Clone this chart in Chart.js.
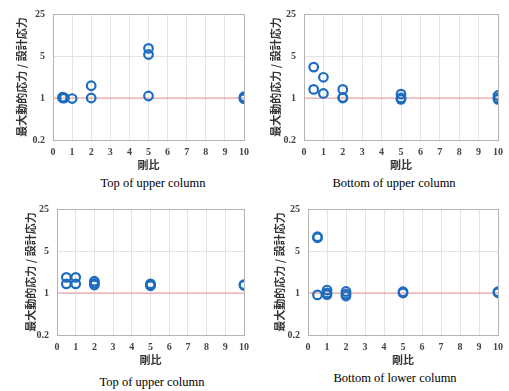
<!DOCTYPE html>
<html>
<head>
<meta charset="utf-8">
<script src="https://cdn.jsdelivr.net/npm/chart.js@4/dist/chart.umd.min.js"></script>
<style>
  body { margin: 0; background: #fff; width: 509px; height: 391px; position: relative; overflow: hidden; }
  .panel { position: absolute; }
  .cap { position: absolute; font-family: 'Liberation Serif', serif; font-size: 12.5px; color: #000; white-space: nowrap; transform: translateX(-50%); }
</style>
</head>
<body>
<div class="panel" style="left:0;top:0"><canvas id="c1" width="255" height="176"></canvas></div>
<div class="panel" style="left:255px;top:0"><canvas id="c2" width="254" height="176"></canvas></div>
<div class="panel" style="left:0;top:195px"><canvas id="c3" width="255" height="176"></canvas></div>
<div class="panel" style="left:255px;top:195px"><canvas id="c4" width="254" height="176"></canvas></div>
<div class="cap" style="left:153px;top:176px">Top of upper column</div>
<div class="cap" style="left:394px;top:176px">Bottom of upper column</div>
<div class="cap" style="left:152px;top:375px">Top of upper column</div>
<div class="cap" style="left:395px;top:371px">Bottom of lower column</div>
<script>
// 軸ラベル・目盛り
var xTitle = "剛比";
var yTitle = "最大動的応力 / 設計応力";
var stressTicks = [0.2, 1, 5, 25];
var refLine = [{x: 0, y: 1}, {x: 10, y: 1}];

// Top of upper column (上段左)
var topUpperX = [0.5, 0.5, 0.6, 1, 2, 2, 5, 5, 5, 10, 10, 10];
var topUpperY = [1.0, 1.03, 1.0, 0.98, 1.0, 1.6, 1.08, 5.3, 6.7, 0.97, 1.0, 1.05];

// Bottom of upper column (上段右)
var botUpperX = [0.5, 0.5, 1, 1, 2, 2, 2, 5, 5, 5, 10, 10, 10];
var botUpperY = [3.27, 1.39, 2.21, 1.19, 1.39, 1.02, 1.0, 1.16, 1.0, 0.95, 1.1, 1.0, 0.95];

// Top of upper column (下段左)
var topUpper2X = [0.5, 0.5, 1, 1, 2, 2, 2, 5, 5, 5, 10, 10];
var topUpper2Y = [1.82, 1.42, 1.82, 1.42, 1.57, 1.45, 1.36, 1.42, 1.36, 1.32, 1.38, 1.34];

// Bottom of lower column (下段右)
var botLowerX = [0.5, 0.5, 0.5, 1, 1, 1, 2, 2, 2, 5, 5, 10, 10];
var botLowerY = [8.65, 8.3, 0.93, 1.12, 1.0, 0.94, 1.06, 0.96, 0.89, 1.05, 1.0, 1.05, 1.01];

function pts(xs, ys) {
	var out = [];
	for (var i = 0; i < xs.length; i++) out.push({x: xs[i], y: ys[i]});
	return out;
}

var frame = {
	id: 'frame',
	afterDraw: function(chart) {
		var a = chart.chartArea, ctx = chart.ctx;
		ctx.save();
		ctx.strokeStyle = '#b4b4b4';
		ctx.lineWidth = 1;
		ctx.strokeRect(Math.round(a.left) + 0.5, Math.round(a.top) + 0.5, Math.round(a.right - a.left), Math.round(a.bottom - a.top));
		ctx.restore();
	}
};

var tickFont = {family: "'Liberation Serif', serif", size: 10, weight: 'bold'};
var titleFont = {family: "'Noto Sans CJK JP', sans-serif", size: 11, weight: 'bold'};

function makeChart(id, xs, ys, yw, padTop, padRight, titlePad) {
	new Chart(document.getElementById(id).getContext('2d'), {
		data: {
			datasets: [{
				type: 'scatter',
				data: pts(xs, ys),
				pointStyle: 'circle',
				pointRadius: 4.3,
				pointBorderWidth: 2.2,
				borderColor: '#1c6cbf',
				backgroundColor: 'rgba(255,255,255,0)',
				order: 1
			}, {
				type: 'line',
				data: refLine,
				borderColor: 'rgba(238,120,120,0.75)',
				borderWidth: 1,
				pointRadius: 0,
				order: 2
			}]
		},
		options: {
			responsive: false,
			animation: false,
			layout: {padding: {top: padTop, right: padRight, left: 0, bottom: 0}},
			plugins: {legend: {display: false}, tooltip: {enabled: false}},
			scales: {
				x: {
					type: 'linear', min: 0, max: 10,
					ticks: {stepSize: 1, font: tickFont, color: '#444', padding: 6},
					grid: {color: '#e4e4e4', drawTicks: false},
					border: {display: false},
					title: {display: true, text: xTitle, font: titleFont, color: '#333', padding: {top: 0, bottom: 5}},
					afterFit: function(s) { s.height = 36; }
				},
				y: {
					type: 'logarithmic', min: 0.2, max: 25,
					afterBuildTicks: function(s) {
						s.ticks = stressTicks.map(function(v) { return {value: v}; });
					},
					ticks: {font: tickFont, color: '#444', padding: 8, callback: function(v) { return String(v); }},
					grid: {color: '#e4e4e4', drawTicks: false},
					border: {display: false},
					title: {display: true, text: yTitle, font: titleFont, color: '#333', padding: {top: titlePad, bottom: 0}},
					afterFit: function(s) { s.width = yw; }
				}
			}
		},
		plugins: [frame]
	});
}

makeChart('c1', topUpperX, topUpperY, 53, 9, 8, 15);
makeChart('c2', botUpperX, botUpperY, 49, 9, 11, 14);
makeChart('c3', topUpper2X, topUpper2Y, 57, 8, 6, 24);
makeChart('c4', botLowerX, botLowerY, 53, 10, 7, 18);
</script>
</body>
</html>
